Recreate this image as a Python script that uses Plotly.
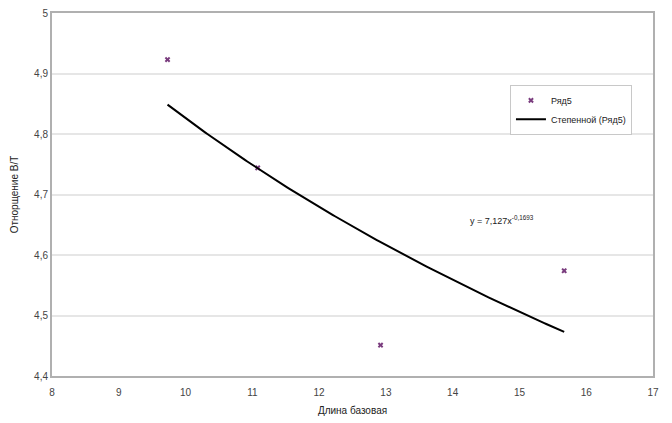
import numpy as np
import plotly.graph_objects as go

x_vals = [9.73, 11.08, 12.92, 15.67]
y_vals = [4.923, 4.744, 4.451, 4.574]
trend_coef = 7.127
trend_exp = -0.1693
x_ticks = [8, 9, 10, 11, 12, 13, 14, 15, 16, 17]
y_ticks = [4.4, 4.5, 4.6, 4.7, 4.8, 4.9, 5.0]

tx = np.linspace(min(x_vals), max(x_vals), 200)
ty = trend_coef * tx ** trend_exp

font = "Liberation Sans, Arial, sans-serif"

fig = go.Figure()
fig.add_trace(go.Scatter(x=x_vals, y=y_vals, mode="markers", name="Ряд5",
                         marker=dict(symbol="x", size=5, color="#7a3c7e",
                                     line=dict(width=0))))
fig.add_trace(go.Scatter(x=tx, y=ty, mode="lines", name="Степенной (Ряд5)",
                         line=dict(color="black", width=2)))

fig.add_annotation(x=14.23, y=4.658, xref="x", yref="y", xanchor="left", yanchor="middle",
                   text="y = 7,127x<sup>-0,1693</sup>", showarrow=False,
                   font=dict(family=font, size=9, color="#222"))

fig.update_layout(
    width=672, height=423,
    margin=dict(l=52, r=19, t=13, b=47),
    plot_bgcolor="white", paper_bgcolor="white",
    font=dict(family=font, size=10, color="#333"),
    showlegend=True,
    legend=dict(x=0.762, y=0.802, xanchor="left", yanchor="top",
                bgcolor="white", bordercolor="#c8c8c8", borderwidth=1,
                font=dict(family=font, size=9, color="#222"),
                tracegroupgap=0, itemwidth=30),
    xaxis=dict(range=[8, 17], tickvals=x_ticks, ticktext=[str(v) for v in x_ticks],
               showgrid=False, showline=True, linecolor="#b0b0b0", linewidth=2,
               mirror=True, ticks="", zeroline=False, ticklabelstandoff=6,
               automargin=False,
               title=dict(text="Длина базовая", font=dict(family=font, size=10, color="#222"), standoff=10),
               tickfont=dict(family=font, size=10, color="#444")),
    yaxis=dict(range=[4.4, 5.0], tickvals=y_ticks,
               ticktext=[("%g" % v).replace(".", ",") for v in y_ticks],
               showgrid=True, gridcolor="#e6e6e6", gridwidth=2,
               showline=True, linecolor="#b0b0b0", linewidth=2,
               mirror=True, ticks="", zeroline=False, automargin=False,
               title=dict(text="Отнорщение В/Т", font=dict(family=font, size=10, color="#222"), standoff=14),
               tickfont=dict(family=font, size=10, color="#444")),
)

fig.write_html("out.html")
